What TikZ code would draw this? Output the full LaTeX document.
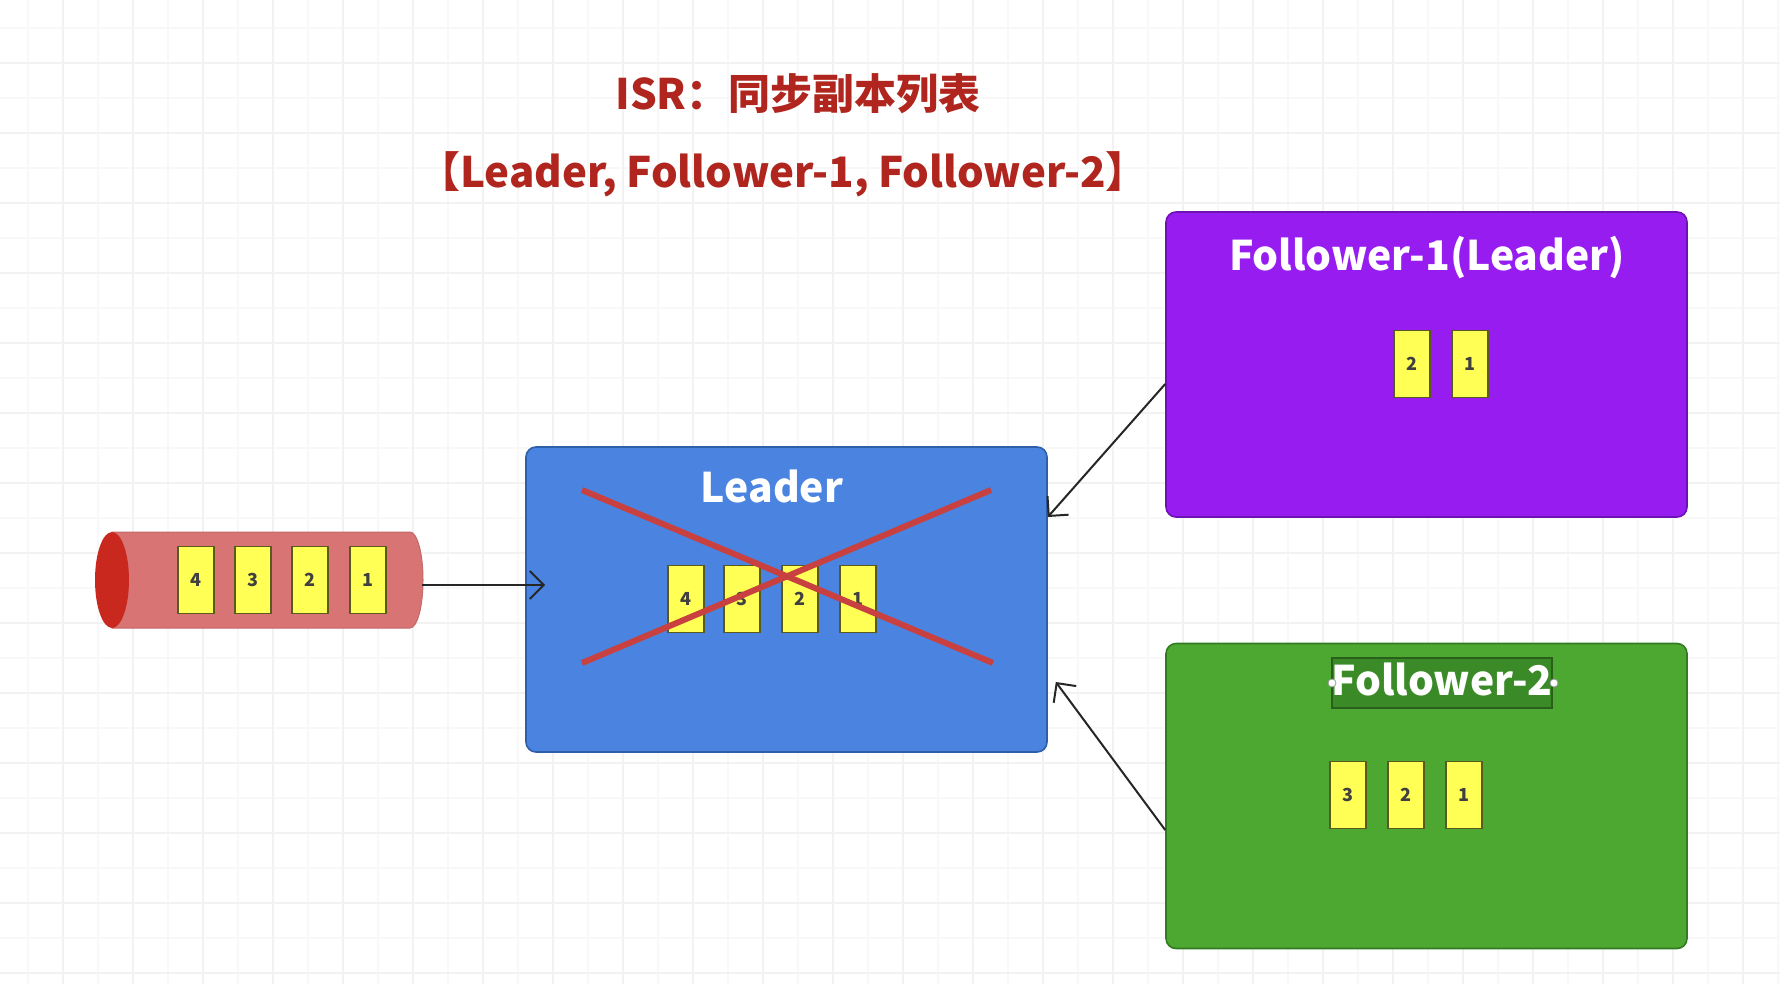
\documentclass[tikz,border=0pt]{standalone}
\usepackage{fontspec}
\newfontfamily\cjk{Noto Sans CJK SC}
\usetikzlibrary{arrows.meta}
\definecolor{titlered}{HTML}{B0261E}
\definecolor{leaderblue}{HTML}{4A84E0}
\definecolor{leaderborder}{HTML}{2F5FA8}
\definecolor{fpurple}{HTML}{961CF0}
\definecolor{fpurpleborder}{HTML}{6E12B5}
\definecolor{fgreen}{HTML}{4DA832}
\definecolor{fgreenborder}{HTML}{347A20}
\definecolor{selgreen}{HTML}{3A8A28}
\definecolor{selborder}{HTML}{285F1A}
\definecolor{msgyellow}{HTML}{FFFF55}
\definecolor{msgborder}{HTML}{5A5A1E}
\definecolor{cylbody}{HTML}{D87474}
\definecolor{cylend}{HTML}{C8281E}
\definecolor{crossred}{HTML}{C8403F}
\definecolor{gridminor}{HTML}{F8F8F8}
\definecolor{gridmajor}{HTML}{F2F2F2}
\begin{document}
\begin{tikzpicture}[x=0.5pt,y=-0.5pt,
  bigbox/.style={rounded corners=5pt, minimum width=260.5pt, minimum height=152.5pt, line width=0.8pt, inner sep=0pt},
  boxtitle/.style={text=white, font=\cjk\bfseries\fontsize{20.4}{24}\selectfont, inner sep=0pt},
  maintitle/.style={text=titlered, font=\cjk\bfseries\fontsize{21}{26}\selectfont, inner sep=0pt},
  msg/.style={fill=msgyellow, draw=msgborder, line width=0.7pt, minimum width=18pt, minimum height=33.5pt, inner sep=0pt, font=\cjk\bfseries\fontsize{9}{10}\selectfont, text=black!75},
  arr/.style={draw=black!85, line width=1pt, -{Straight Barb[length=7pt,width=14pt,line width=1pt]}},
  xline/.style={draw=crossred, line width=3pt},
  handle/.style={circle, fill=white, draw=black!40, line width=0.4pt, minimum size=4pt, inner sep=0pt}
]
\useasboundingbox (0,0) rectangle (1780,984);
\fill[white] (0,0) rectangle (1780,984);
% grid
\foreach \i in {0,...,50} {
  \draw[gridminor, line width=0.6pt] (28+35*\i,0) -- (28+35*\i,984);
}
\foreach \i in {0,...,28} {
  \draw[gridminor, line width=0.6pt] (0,28+35*\i) -- (1780,28+35*\i);
}
\foreach \i in {0,...,25} {
  \draw[gridmajor, line width=0.8pt] (63+70*\i,0) -- (63+70*\i,984);
}
\foreach \i in {0,...,13} {
  \draw[gridmajor, line width=0.8pt] (0,63+70*\i) -- (1780,63+70*\i);
}

% titles
\node[maintitle] (t1) at (798,94) {ISR：同步副本列表};
\node[maintitle] (t2) at (783,174) {【Leader, Follower-1, Follower-2】};

% queue (cylinder)
\node[inner sep=0pt, minimum width=164pt, minimum height=48pt] (queue) at (258,580) {};
\filldraw[fill=cylbody, draw=cylbody!90!black, line width=0.5pt] (112,532) -- (410,532)
  arc[start angle=90, end angle=-90, x radius=6.5pt, y radius=24pt] -- (112,628) -- cycle;
\fill[cylend] (112,580) ellipse[x radius=8.5pt, y radius=24pt];
\node[msg] (q4) at (196,580) {4};
\node[msg] (q3) at (253,580) {3};
\node[msg] (q2) at (310,580) {2};
\node[msg] (q1) at (368,580) {1};

% leader
\node[bigbox, fill=leaderblue, draw=leaderborder] (leader) at (786.5,599.5) {};
\node[boxtitle] (leadertitle) at (772,486) {Leader};
\node[msg] (l4) at (686,599) {4};
\node[msg] (l3) at (742,599) {3};
\node[msg] (l2) at (800,599) {2};
\node[msg] (l1) at (858,599) {1};
\draw[xline] (582,490) -- (993,663);
\draw[xline] (582,663) -- (991,490);

% follower-1
\node[bigbox, fill=fpurple, draw=fpurpleborder] (f1) at (1426.5,364.5) {};
\node[boxtitle] (f1title) at (1427,258) {Follower-1(Leader)};
\node[msg] (f1m2) at (1412,364) {2};
\node[msg] (f1m1) at (1470,364) {1};

% follower-2
\node[bigbox, fill=fgreen, draw=fgreenborder] (f2) at (1426.5,796) {};
\node[fill=selgreen, draw=selborder, line width=0.6pt, minimum width=110pt, minimum height=25pt, inner sep=0pt] (sel) at (1442,683) {};
\node[boxtitle] (f2title) at (1442,679) {Follower-2};
\node[handle] (h1) at (1332,683) {};
\node[handle] (h2) at (1554,683) {};
\node[msg] (f2m3) at (1348,795) {3};
\node[msg] (f2m2) at (1406,795) {2};
\node[msg] (f2m1) at (1464,795) {1};

% connectors
\draw[arr] ([yshift=-2.5pt]queue.east) -- ([xshift=10pt,yshift=7.25pt]leader.west);
\draw[arr] ([yshift=-9.75pt]f1.west) -- ([yshift=41.25pt]leader.east);
\draw[arr] ([yshift=-17pt]f2.west) -- ([xshift=4pt,yshift=-41.25pt]leader.east);
\end{tikzpicture}
\end{document}
